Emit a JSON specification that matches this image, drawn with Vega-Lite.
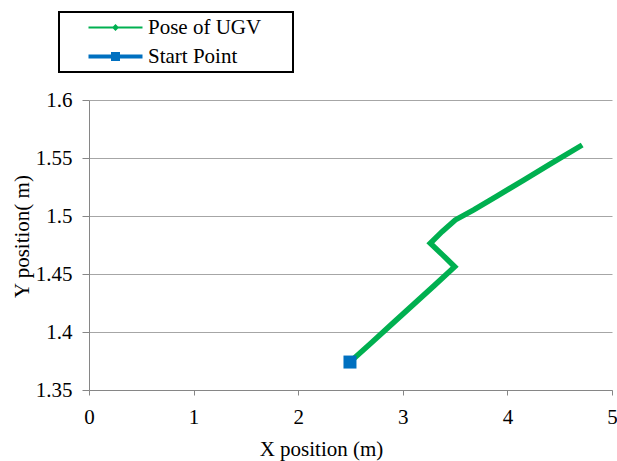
{
  "$schema": "https://vega.github.io/schema/vega-lite/v6.json",
  "width": 523,
  "height": 290,
  "autosize": {"type": "none"},
  "padding": {"left": 89, "top": 100, "right": 5, "bottom": 71},
  "background": "white",
  "config": {
    "view": {"stroke": null},
    "font": "Liberation Serif",
    "style": {"guide-label": {"font": "Liberation Serif", "fontSize": 21}, "guide-title": {"font": "Liberation Serif"}},
    "axis": {
      "labelFont": "Liberation Serif",
      "labelFontSize": 21,
      "labelColor": "black",
      "titleFont": "Liberation Serif",
      "titleFontSize": 21,
      "titleFontWeight": "normal",
      "titleColor": "black",
      "domainColor": "#868686",
      "tickColor": "#868686",
      "gridColor": "#a6a6a6",
      "labelFlush": false
    },
    "legend": {"strokeWidth": 2, "labelFont": "Liberation Serif", "labelFontSize": 21}
  },
  "data": {
    "values": [
      {"i": 0, "x": 2.495, "y": 1.3741, "series": "Pose of UGV"},
      {"i": 1, "x": 2.7, "y": 1.3908, "series": "Pose of UGV"},
      {"i": 2, "x": 2.9, "y": 1.4072, "series": "Pose of UGV"},
      {"i": 3, "x": 3.1, "y": 1.4236, "series": "Pose of UGV"},
      {"i": 4, "x": 3.3, "y": 1.4400, "series": "Pose of UGV"},
      {"i": 5, "x": 3.496, "y": 1.4563, "series": "Pose of UGV"},
      {"i": 6, "x": 3.38, "y": 1.4665, "series": "Pose of UGV"},
      {"i": 7, "x": 3.263, "y": 1.4765, "series": "Pose of UGV"},
      {"i": 8, "x": 3.375, "y": 1.4865, "series": "Pose of UGV"},
      {"i": 9, "x": 3.502, "y": 1.4966, "series": "Pose of UGV"},
      {"i": 10, "x": 3.678, "y": 1.5052, "series": "Pose of UGV"},
      {"i": 11, "x": 3.9, "y": 1.5172, "series": "Pose of UGV"},
      {"i": 12, "x": 4.156, "y": 1.5310, "series": "Pose of UGV"},
      {"i": 13, "x": 4.4, "y": 1.5443, "series": "Pose of UGV"},
      {"i": 14, "x": 4.715, "y": 1.5612, "series": "Pose of UGV"},
      {"i": 0, "x": 2.495, "y": 1.3741, "series": "Start Point"}
    ]
  },
  "layer": [
    {
      "transform": [{"filter": "datum.series == 'Pose of UGV'"}],
      "mark": {"type": "line", "color": "#00B050", "strokeWidth": 5.5},
      "encoding": {
        "x": {
          "field": "x", "type": "quantitative",
          "scale": {"domain": [0, 5], "nice": false, "zero": false},
          "axis": {
            "title": "X position (m)",
            "values": [0, 1, 2, 3, 4, 5],
            "format": "d",
            "grid": false,
            "tickSize": 5,
            "labelPadding": 11,
            "labelFlush": false,
            "labelFont": "Liberation Serif",
            "labelFontSize": 21,
            "titlePadding": 11,
            "titleX": 232
          }
        },
        "y": {
          "field": "y", "type": "quantitative",
          "scale": {"domain": [1.35, 1.6], "nice": false, "zero": false},
          "axis": {
            "title": "Y position( m)",
            "values": [1.35, 1.4, 1.45, 1.5, 1.55, 1.6],
            "format": "~f",
            "grid": true,
            "tickSize": 7,
            "labelPadding": 10,
            "labelFlush": false,
            "labelFont": "Liberation Serif",
            "labelFontSize": 21,
            "titlePadding": 3,
            "titleY": 136
          }
        },
        "order": {"field": "i", "type": "quantitative"}
      }
    },
    {
      "transform": [{"filter": "datum.series == 'Start Point'"}],
      "mark": {"type": "square", "color": "#0070C0", "size": 169, "opacity": 1, "filled": true},
      "encoding": {
        "x": {"field": "x", "type": "quantitative"},
        "y": {"field": "y", "type": "quantitative"}
      }
    },
    {
      "transform": [{"filter": "datum.i < 0"}],
      "mark": {"type": "point", "filled": true, "opacity": 1},
      "encoding": {
        "x": {"field": "x", "type": "quantitative"},
        "y": {"field": "y", "type": "quantitative"},
        "color": {
          "field": "series", "type": "nominal",
          "scale": {"domain": ["Pose of UGV", "Start Point"], "range": ["#00B050", "#0070C0"]},
          "legend": {
            "title": null,
            "orient": "none",
            "legendX": -30,
            "legendY": -88,
            "strokeColor": "black",
            "padding": 5,
            "symbolSize": 400,
            "symbolStrokeWidth": 0,
            "symbolOpacity": 1,
            "labelOffset": 63,
            "rowPadding": 7,
            "labelFont": "Liberation Serif",
            "labelFontSize": 21,
            "labelColor": "black"
          }
        },
        "shape": {
          "field": "series", "type": "nominal",
          "scale": {
            "domain": ["Pose of UGV", "Start Point"],
            "range": [
              "M1.4,-0.11H6.8V0.11H1.4Z M4.1,-0.35L4.45,0L4.1,0.35L3.75,0Z M21.3,0",
              "M1.4,-0.2H6.8V0.2H1.4Z M3.65,-0.45H4.55V0.45H3.65Z M21.3,0"
            ]
          }
        }
      }
    }
  ]
}
